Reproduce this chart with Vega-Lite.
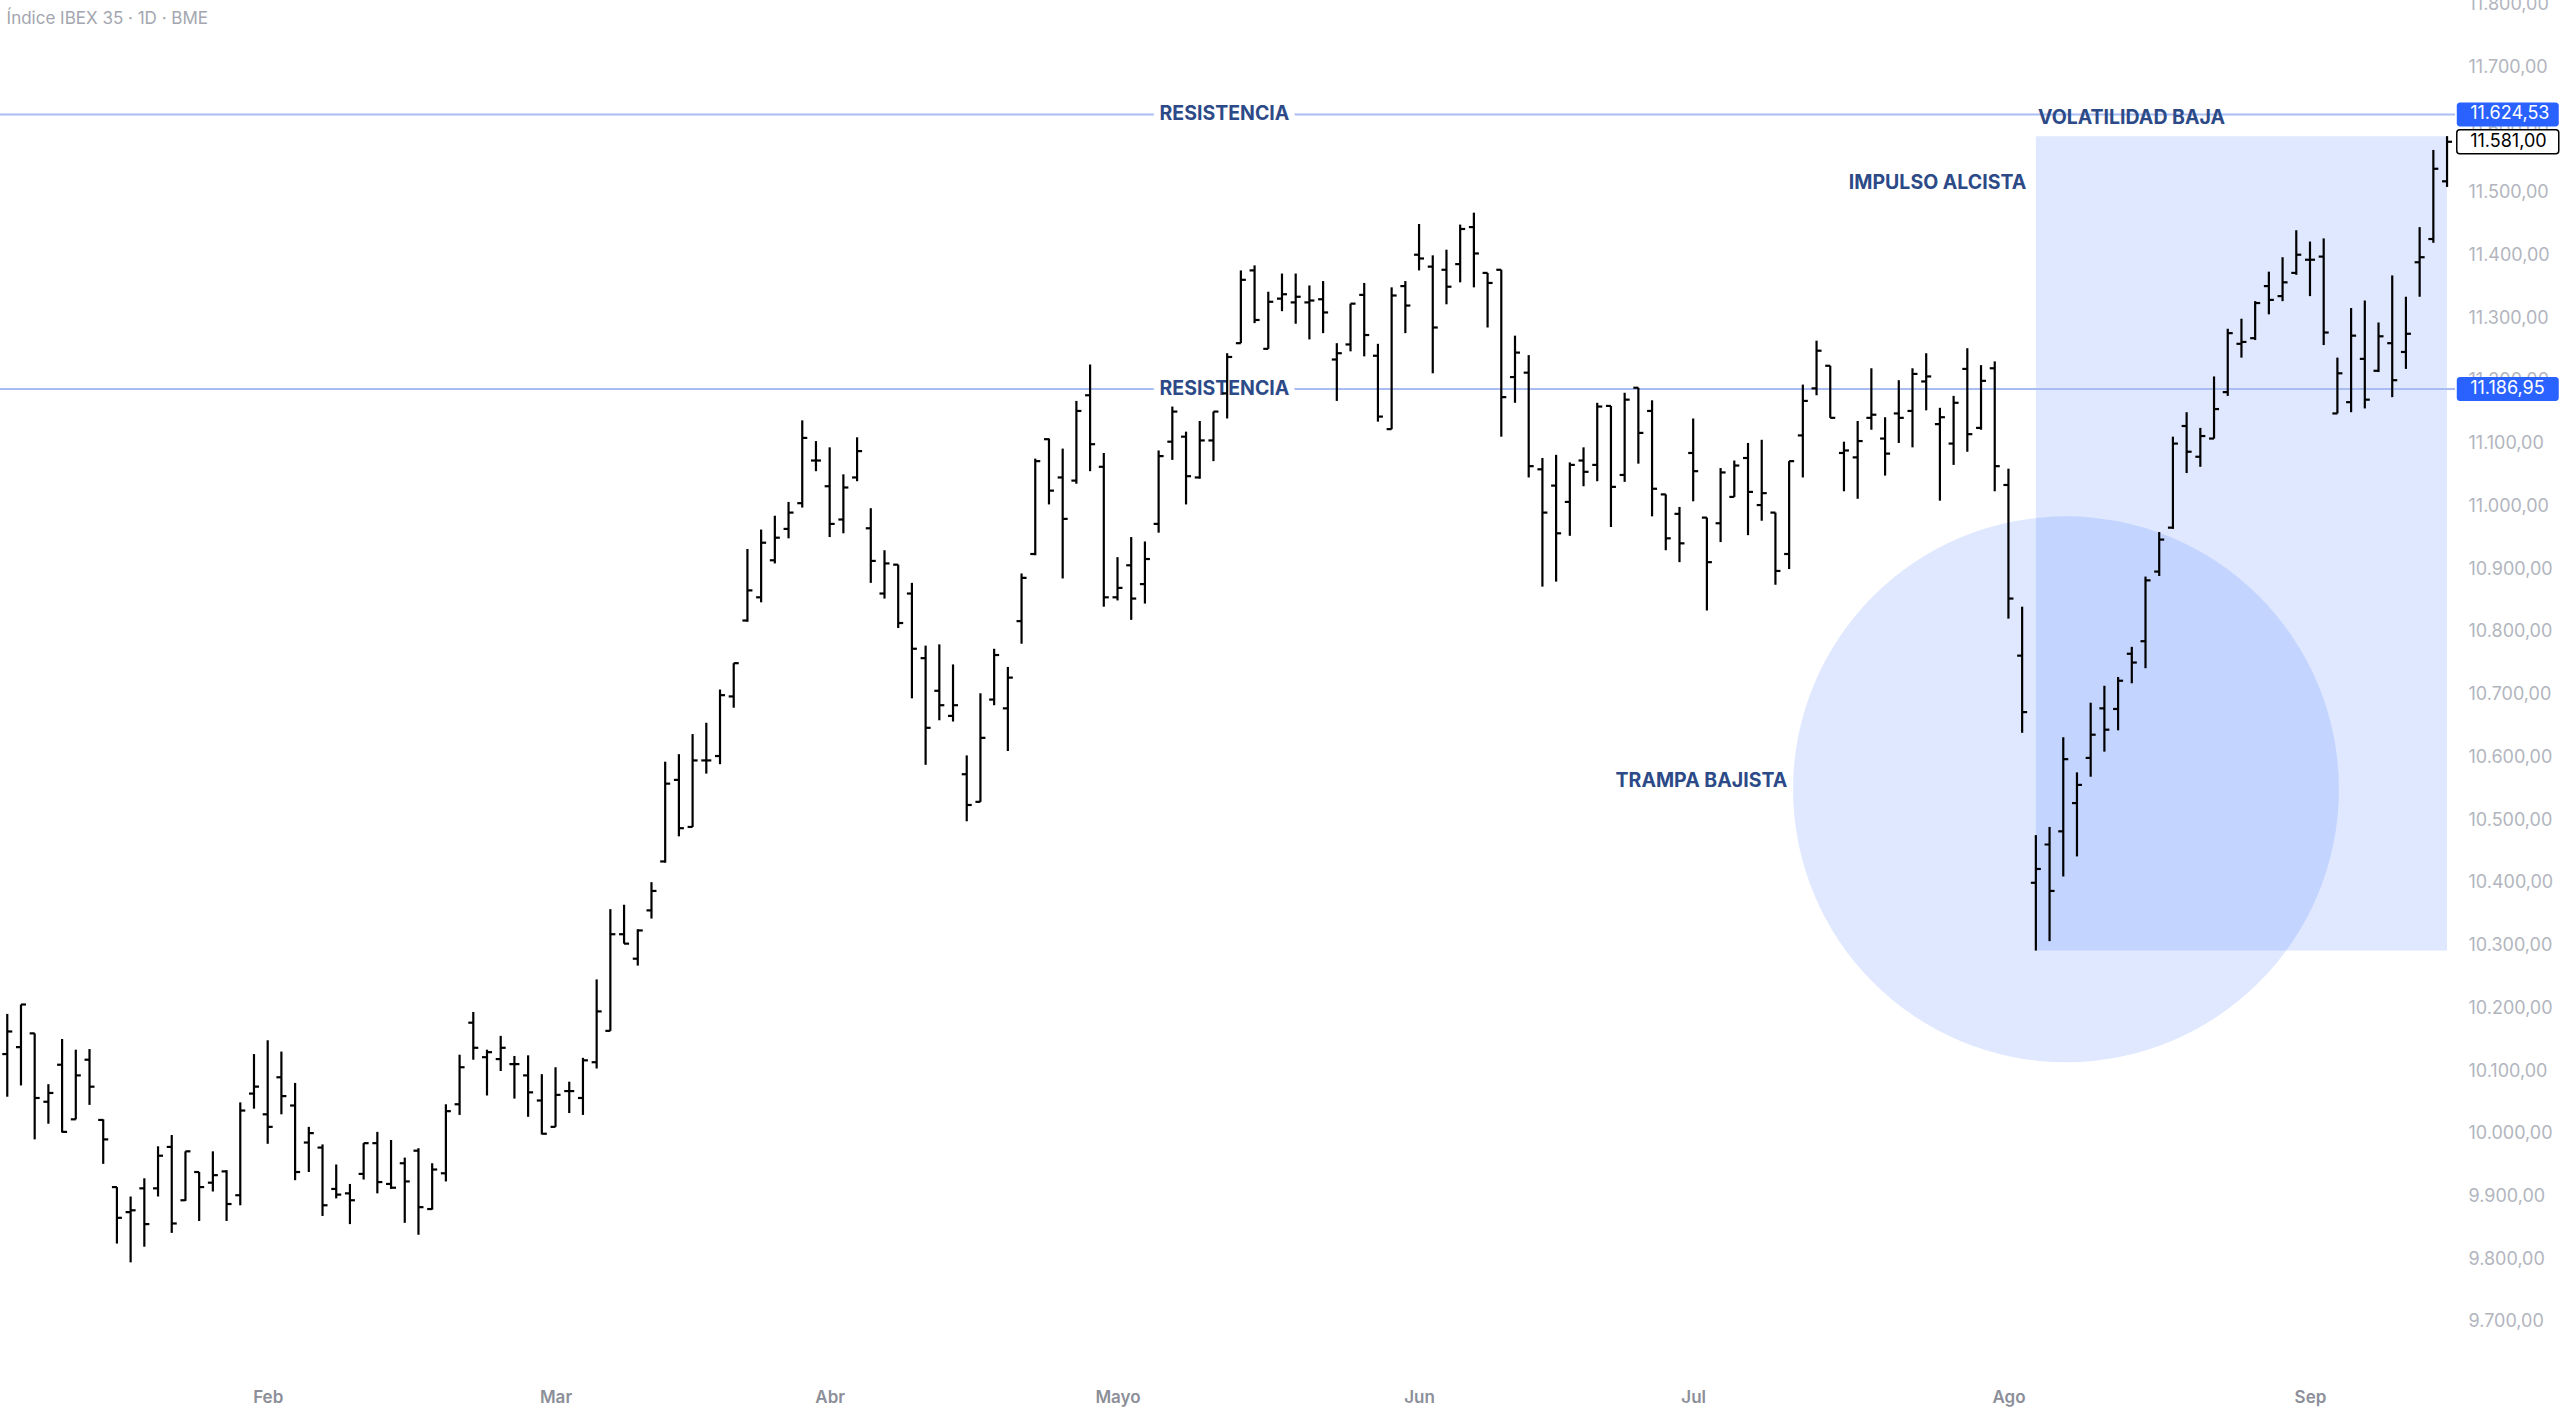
{
 "$schema": "https://vega.github.io/schema/vega-lite/v6.json",
 "width": 2455,
 "height": 1380,
 "autosize": {"type": "none"},
 "padding": {"left": 0, "top": 0, "right": 105, "bottom": 32},
 "background": "white",
 "config": {"view": {"stroke": null}, "font": "Inter", "tick": {"opacity": 1}},
 "datasets": {
  "bars": [
   {"i":0,"o":10127,"h":10191,"l":10059,"c":10163},{"i":1,"o":10138,"h":10206,"l":10077,"c":10206},{"i":2,"o":10160,"h":10160,"l":9991,"c":10057},{"i":3,"o":10051,"h":10079,"l":10016,"c":10065},{"i":4,"o":10110,"h":10151,"l":10002,"c":10003},{"i":5,"o":10023,"h":10134,"l":10023,"c":10093},{"i":6,"o":10118,"h":10135,"l":10046,"c":10075},{"i":7,"o":10022,"h":10023,"l":9952,"c":9991},{"i":8,"o":9915,"h":9915,"l":9825,"c":9866},{"i":9,"o":9875,"h":9900,"l":9795,"c":9878},
   {"i":10,"o":9913,"h":9929,"l":9820,"c":9856},{"i":11,"o":9913,"h":9980,"l":9900,"c":9965},{"i":12,"o":9979,"h":9998,"l":9842,"c":9857},{"i":13,"o":9894,"h":9972,"l":9893,"c":9972},{"i":14,"o":9939,"h":9939,"l":9861,"c":9915},{"i":15,"o":9922,"h":9972,"l":9908,"c":9934},{"i":16,"o":9940,"h":9942,"l":9861,"c":9888},{"i":17,"o":9902,"h":10050,"l":9886,"c":10037},{"i":18,"o":10064,"h":10127,"l":10040,"c":10075},{"i":19,"o":10031,"h":10149,"l":9984,"c":10011},
   {"i":20,"o":10090,"h":10131,"l":10031,"c":10060},{"i":21,"o":10045,"h":10081,"l":9926,"c":9939},{"i":22,"o":9986,"h":10011,"l":9939,"c":10001},{"i":23,"o":9978,"h":9983,"l":9869,"c":9886},{"i":24,"o":9912,"h":9951,"l":9897,"c":9903},{"i":25,"o":9905,"h":9920,"l":9856,"c":9894},{"i":26,"o":9936,"h":9985,"l":9927,"c":9985},{"i":27,"o":9985,"h":10003,"l":9905,"c":9923},{"i":28,"o":9920,"h":9990,"l":9912,"c":9914},{"i":29,"o":9953,"h":9962,"l":9858,"c":9924},
   {"i":30,"o":9973,"h":9977,"l":9839,"c":9883},{"i":31,"o":9880,"h":9953,"l":9879,"c":9943},{"i":32,"o":9937,"h":10047,"l":9924,"c":10036},{"i":33,"o":10047,"h":10126,"l":10030,"c":10106},{"i":34,"o":10177,"h":10194,"l":10118,"c":10137},{"i":35,"o":10122,"h":10134,"l":10061,"c":10130},{"i":36,"o":10119,"h":10156,"l":10100,"c":10137},{"i":37,"o":10111,"h":10124,"l":10056,"c":10111},{"i":38,"o":10093,"h":10125,"l":10027,"c":10066},{"i":39,"o":10053,"h":10095,"l":9999,"c":10000},
   {"i":40,"o":10011,"h":10106,"l":10011,"c":10062},{"i":41,"o":10068,"h":10083,"l":10033,"c":10068},{"i":42,"o":10057,"h":10121,"l":10030,"c":10117},{"i":43,"o":10114,"h":10246,"l":10104,"c":10195},{"i":44,"o":10164,"h":10358,"l":10164,"c":10318},{"i":45,"o":10318,"h":10365,"l":10303,"c":10303},{"i":46,"o":10279,"h":10326,"l":10268,"c":10324},{"i":47,"o":10356,"h":10401,"l":10343,"c":10387},{"i":48,"o":10434,"h":10593,"l":10432,"c":10558},{"i":49,"o":10564,"h":10605,"l":10474,"c":10487},
   {"i":50,"o":10489,"h":10637,"l":10489,"c":10595},{"i":51,"o":10595,"h":10655,"l":10574,"c":10595},{"i":52,"o":10602,"h":10708,"l":10589,"c":10699},{"i":53,"o":10697,"h":10750,"l":10679,"c":10750},{"i":54,"o":10818,"h":10932,"l":10816,"c":10866},{"i":55,"o":10855,"h":10963,"l":10847,"c":10942},{"i":56,"o":10914,"h":10985,"l":10909,"c":10950},{"i":57,"o":10964,"h":11007,"l":10949,"c":10990},{"i":58,"o":11005,"h":11137,"l":10998,"c":11109},{"i":59,"o":11073,"h":11104,"l":11056,"c":11073},
   {"i":60,"o":11032,"h":11094,"l":10951,"c":10972},{"i":61,"o":10979,"h":11051,"l":10957,"c":11030},{"i":62,"o":11046,"h":11110,"l":11040,"c":11088},{"i":63,"o":10965,"h":10997,"l":10878,"c":10913},{"i":64,"o":10861,"h":10930,"l":10853,"c":10909},{"i":65,"o":10907,"h":10907,"l":10806,"c":10814},{"i":66,"o":10861,"h":10878,"l":10694,"c":10773},{"i":67,"o":10758,"h":10778,"l":10588,"c":10647},{"i":68,"o":10706,"h":10780,"l":10659,"c":10683},{"i":69,"o":10666,"h":10748,"l":10657,"c":10683},
   {"i":70,"o":10573,"h":10603,"l":10498,"c":10524},{"i":71,"o":10529,"h":10702,"l":10529,"c":10631},{"i":72,"o":10692,"h":10773,"l":10683,"c":10763},{"i":73,"o":10678,"h":10744,"l":10610,"c":10727},{"i":74,"o":10817,"h":10893,"l":10781,"c":10886},{"i":75,"o":10924,"h":11076,"l":10922,"c":11072},{"i":76,"o":11107,"h":11108,"l":11003,"c":11025},{"i":77,"o":11046,"h":11092,"l":10885,"c":10980},{"i":78,"o":11041,"h":11168,"l":11036,"c":11152},{"i":79,"o":11177,"h":11226,"l":11056,"c":11099},
   {"i":80,"o":11063,"h":11085,"l":10840,"c":10855},{"i":81,"o":10855,"h":10919,"l":10850,"c":10870},{"i":82,"o":10906,"h":10951,"l":10819,"c":10853},{"i":83,"o":10876,"h":10944,"l":10845,"c":10916},{"i":84,"o":10972,"h":11089,"l":10958,"c":11080},{"i":85,"o":11103,"h":11159,"l":11074,"c":11151},{"i":86,"o":11111,"h":11119,"l":11003,"c":11048},{"i":87,"o":11046,"h":11136,"l":11044,"c":11105},{"i":88,"o":11105,"h":11151,"l":11072,"c":11151},{"i":89,"o":11180,"h":11244,"l":11140,"c":11238},
   {"i":90,"o":11260,"h":11376,"l":11260,"c":11361},{"i":91,"o":11376,"h":11384,"l":11292,"c":11297},{"i":92,"o":11251,"h":11342,"l":11251,"c":11326},{"i":93,"o":11331,"h":11371,"l":11311,"c":11338},{"i":94,"o":11325,"h":11371,"l":11291,"c":11334},{"i":95,"o":11325,"h":11352,"l":11266,"c":11328},{"i":96,"o":11330,"h":11359,"l":11276,"c":11309},{"i":97,"o":11234,"h":11260,"l":11168,"c":11244},{"i":98,"o":11258,"h":11323,"l":11247,"c":11323},{"i":99,"o":11337,"h":11356,"l":11239,"c":11273},
   {"i":100,"o":11240,"h":11259,"l":11135,"c":11143},{"i":101,"o":11123,"h":11349,"l":11123,"c":11336},{"i":102,"o":11351,"h":11359,"l":11276,"c":11320},{"i":103,"o":11401,"h":11450,"l":11376,"c":11395},{"i":104,"o":11382,"h":11400,"l":11212,"c":11285},{"i":105,"o":11377,"h":11409,"l":11322,"c":11350},{"i":106,"o":11386,"h":11449,"l":11357,"c":11442},{"i":107,"o":11445,"h":11468,"l":11349,"c":11403},{"i":108,"o":11372,"h":11372,"l":11285,"c":11356},{"i":109,"o":11377,"h":11377,"l":11111,"c":11174},
   {"i":110,"o":11206,"h":11272,"l":11165,"c":11245},{"i":111,"o":11213,"h":11241,"l":11046,"c":11064},{"i":112,"o":11059,"h":11077,"l":10872,"c":10990},{"i":113,"o":11033,"h":11082,"l":10880,"c":10957},{"i":114,"o":11007,"h":11070,"l":10953,"c":11066},{"i":115,"o":11073,"h":11094,"l":11032,"c":11055},{"i":116,"o":11066,"h":11165,"l":11040,"c":11159},{"i":117,"o":11160,"h":11160,"l":10967,"c":11031},{"i":118,"o":11050,"h":11181,"l":11039,"c":11170},{"i":119,"o":11189,"h":11189,"l":11068,"c":11117},
   {"i":120,"o":11152,"h":11169,"l":10984,"c":11028},{"i":121,"o":11019,"h":11019,"l":10930,"c":10949},{"i":122,"o":10988,"h":10999,"l":10911,"c":10941},{"i":123,"o":11085,"h":11140,"l":11008,"c":11056},{"i":124,"o":10982,"h":10982,"l":10834,"c":10911},{"i":125,"o":10973,"h":11061,"l":10943,"c":11054},{"i":126,"o":11015,"h":11073,"l":11015,"c":11065},{"i":127,"o":11077,"h":11101,"l":10954,"c":11023},{"i":128,"o":11002,"h":11106,"l":10977,"c":11021},{"i":129,"o":10990,"h":10990,"l":10875,"c":10897},
   {"i":130,"o":10924,"h":11072,"l":10900,"c":11072},{"i":131,"o":11113,"h":11194,"l":11046,"c":11168},{"i":132,"o":11188,"h":11264,"l":11177,"c":11248},{"i":133,"o":11224,"h":11224,"l":11141,"c":11141},{"i":134,"o":11085,"h":11103,"l":11024,"c":11089},{"i":135,"o":11078,"h":11136,"l":11012,"c":11104},{"i":136,"o":11141,"h":11220,"l":11122,"c":11146},{"i":137,"o":11108,"h":11142,"l":11049,"c":11084},{"i":138,"o":11148,"h":11201,"l":11101,"c":11141},{"i":139,"o":11152,"h":11220,"l":11094,"c":11211},
   {"i":140,"o":11199,"h":11244,"l":11153,"c":11207},{"i":141,"o":11131,"h":11157,"l":11009,"c":11142},{"i":142,"o":11100,"h":11176,"l":11066,"c":11165},{"i":143,"o":11219,"h":11252,"l":11087,"c":11115},{"i":144,"o":11125,"h":11225,"l":11122,"c":11200},{"i":145,"o":11220,"h":11231,"l":11024,"c":11064},{"i":146,"o":11034,"h":11060,"l":10821,"c":10853},{"i":147,"o":10762,"h":10840,"l":10639,"c":10672},{"i":148,"o":10400,"h":10476,"l":10292,"c":10422},{"i":149,"o":10461,"h":10489,"l":10307,"c":10387},
   {"i":150,"o":10482,"h":10632,"l":10410,"c":10597},{"i":151,"o":10527,"h":10576,"l":10442,"c":10556},{"i":152,"o":10599,"h":10687,"l":10569,"c":10636},{"i":153,"o":10678,"h":10714,"l":10609,"c":10644},{"i":154,"o":10677,"h":10728,"l":10643,"c":10722},{"i":155,"o":10765,"h":10776,"l":10718,"c":10751},{"i":156,"o":10785,"h":10888,"l":10742,"c":10882},{"i":157,"o":10896,"h":10959,"l":10889,"c":10947},{"i":158,"o":10966,"h":11111,"l":10964,"c":11100},{"i":159,"o":11128,"h":11150,"l":11053,"c":11087},
   {"i":160,"o":11079,"h":11125,"l":11063,"c":11112},{"i":161,"o":11108,"h":11207,"l":11108,"c":11155},{"i":162,"o":11182,"h":11283,"l":11176,"c":11276},{"i":163,"o":11259,"h":11299,"l":11237,"c":11262},{"i":164,"o":11268,"h":11327,"l":11265,"c":11324},{"i":165,"o":11351,"h":11374,"l":11306,"c":11329},{"i":166,"o":11335,"h":11397,"l":11327,"c":11357},{"i":167,"o":11372,"h":11440,"l":11369,"c":11401},{"i":168,"o":11393,"h":11422,"l":11335,"c":11393},{"i":169,"o":11398,"h":11427,"l":11257,"c":11277},
   {"i":170,"o":11148,"h":11237,"l":11148,"c":11212},{"i":171,"o":11166,"h":11316,"l":11150,"c":11272},{"i":172,"o":11235,"h":11328,"l":11156,"c":11170},{"i":173,"o":11216,"h":11293,"l":11214,"c":11271},{"i":174,"o":11260,"h":11368,"l":11174,"c":11201},{"i":175,"o":11246,"h":11334,"l":11219,"c":11275},{"i":176,"o":11389,"h":11445,"l":11334,"c":11397},{"i":177,"o":11426,"h":11568,"l":11420,"c":11538},{"i":178,"o":11518,"h":11590,"l":11509,"c":11581}
  ],
  "zone": [{"i0": 148, "i1": 178, "lo": 10292, "hi": 11590}],
  "circle": [{"i": 150.2, "v": 10549}],
  "levels": [{"v": 11624.53, "label": "11.624,53"}, {"v": 11186.95, "label": "11.186,95"}],
  "last": [{"v": 11581, "label": "11.581,00"}],
  "notes": [
   {"text": "RESISTENCIA", "i": 88.8, "v": 11624.53, "kind": "level"},
   {"text": "RESISTENCIA", "i": 88.8, "v": 11186.95, "kind": "level"},
   {"text": "VOLATILIDAD BAJA", "i": 154.98, "v": 11619, "kind": "zone"},
   {"text": "IMPULSO ALCISTA", "i": 140.83, "v": 11515, "kind": "zone"},
   {"text": "TRAMPA BAJISTA", "i": 123.6, "v": 10562, "kind": "zone"}
  ]
 },
 "layer": [
  {
   "data": {"name": "zone"},
   "mark": {"type": "rect", "color": "#2962ff", "opacity": 0.15},
   "encoding": {
    "x": {"field": "i0", "type": "quantitative", "scale": {"domain": [-0.53, 178.58], "nice": false, "zero": false}, "axis": {"orient": "bottom", "title": null, "values": [19, 40, 60, 81, 103, 123, 146, 168], "labelExpr": "['Feb','Mar','Abr','Mayo','Jun','Jul','Ago','Sep'][indexof([19,40,60,81,103,123,146,168], datum.value)]", "domain": false, "ticks": false, "grid": false, "labelFont": "Inter", "labelFontSize": 17, "labelFontWeight": 600, "labelColor": "#8c8f99", "labelPadding": 9, "labelFlush": false}},
    "x2": {"field": "i1"},
    "y": {"field": "lo", "type": "quantitative", "scale": {"domain": [9615.5, 11799], "nice": false, "zero": false}, "axis": {"orient": "right", "title": null, "values": [9700, 9800, 9900, 10000, 10100, 10200, 10300, 10400, 10500, 10600, 10700, 10800, 10900, 11000, 11100, 11200, 11300, 11400, 11500, 11600, 11700, 11800], "labelExpr": "replace(replace(replace(format(datum.value, ',.2f'), ',', '#'), '.', ','), '#', '.')", "domain": false, "ticks": false, "grid": false, "labelFont": "Inter", "labelFontSize": 18, "labelColor": "#b2b5be", "labelAlign": "left", "labelBaseline": "middle", "labelPadding": 13, "labelOverlap": false, "labelBound": false, "labelFlush": false, "zindex": 0}},
    "y2": {"field": "hi"}
   }
  },
  {
   "data": {"name": "circle"},
   "mark": {"type": "point", "shape": "circle", "filled": true, "size": 298000, "color": "#2962ff", "opacity": 0.15, "strokeWidth": 0},
   "encoding": {
    "x": {"field": "i", "type": "quantitative"},
    "y": {"field": "v", "type": "quantitative"}
   }
  },
  {
   "data": {"name": "levels"},
   "mark": {"type": "rule", "color": "#a9bdf3", "strokeWidth": 2},
   "encoding": {"y": {"field": "v", "type": "quantitative"}}
  },
  {
   "data": {"name": "notes"},
   "transform": [{"filter": "datum.kind === 'level'"}],
   "mark": {"type": "text", "font": "Inter", "fontSize": 19.5, "fontWeight": "bold", "fill": "white", "stroke": "white", "strokeWidth": 14, "strokeJoin": "round", "align": "center", "baseline": "middle"},
   "encoding": {
    "x": {"field": "i", "type": "quantitative"},
    "y": {"field": "v", "type": "quantitative"},
    "text": {"field": "text"}
   }
  },
  {
   "data": {"name": "notes"},
   "mark": {"type": "text", "font": "Inter", "fontSize": 19.5, "fontWeight": "bold", "color": "#2d4a88", "align": "center", "baseline": "middle"},
   "encoding": {
    "x": {"field": "i", "type": "quantitative"},
    "y": {"field": "v", "type": "quantitative"},
    "text": {"field": "text"}
   }
  },
  {
   "data": {"name": "bars"},
   "mark": {"type": "rule", "color": "black", "strokeWidth": 2.2, "strokeCap": "butt"},
   "encoding": {
    "x": {"field": "i", "type": "quantitative"},
    "y": {"field": "l", "type": "quantitative"},
    "y2": {"field": "h"}
   }
  },
  {
   "data": {"name": "bars"},
   "mark": {"type": "tick", "orient": "horizontal", "color": "black", "size": 5, "thickness": 2.2, "xOffset": -2.5, "opacity": 1},
   "encoding": {
    "x": {"field": "i", "type": "quantitative"},
    "y": {"field": "o", "type": "quantitative"}
   }
  },
  {
   "data": {"name": "bars"},
   "mark": {"type": "tick", "orient": "horizontal", "color": "black", "size": 5, "thickness": 2.2, "xOffset": 2.5, "opacity": 1},
   "encoding": {
    "x": {"field": "i", "type": "quantitative"},
    "y": {"field": "c", "type": "quantitative"}
   }
  },
  {
   "data": {"name": "levels"},
   "mark": {"type": "bar", "orient": "horizontal", "size": 24, "color": "#2962ff", "cornerRadius": 3},
   "encoding": {
    "x": {"datum": 178.71, "type": "quantitative"},
    "x2": {"datum": 186.15},
    "y": {"field": "v", "type": "quantitative"}
   }
  },
  {
   "data": {"name": "last"},
   "mark": {"type": "bar", "orient": "horizontal", "size": 24, "fill": "white", "stroke": "black", "strokeWidth": 1.5, "cornerRadius": 3},
   "encoding": {
    "x": {"datum": 178.71, "type": "quantitative"},
    "x2": {"datum": 186.15},
    "y": {"field": "v", "type": "quantitative"}
   }
  },
  {
   "data": {"name": "levels"},
   "mark": {"type": "text", "font": "Inter", "fontSize": 18, "color": "white", "align": "left", "baseline": "middle"},
   "encoding": {
    "x": {"datum": 179.69, "type": "quantitative"},
    "y": {"field": "v", "type": "quantitative"},
    "text": {"field": "label"}
   }
  },
  {
   "data": {"name": "last"},
   "mark": {"type": "text", "font": "Inter", "fontSize": 18, "color": "black", "align": "left", "baseline": "middle"},
   "encoding": {
    "x": {"datum": 179.69, "type": "quantitative"},
    "y": {"field": "v", "type": "quantitative"},
    "text": {"field": "label"}
   }
  },
  {
   "data": {"values": [{"title": "Índice IBEX 35 · 1D · BME"}]},
   "mark": {"type": "text", "font": "Inter", "fontSize": 17, "color": "#a3a6af", "align": "left", "baseline": "middle"},
   "encoding": {
    "x": {"datum": -0.05, "type": "quantitative"},
    "y": {"datum": 11776, "type": "quantitative"},
    "text": {"field": "title"}
   }
  }
 ]
}
